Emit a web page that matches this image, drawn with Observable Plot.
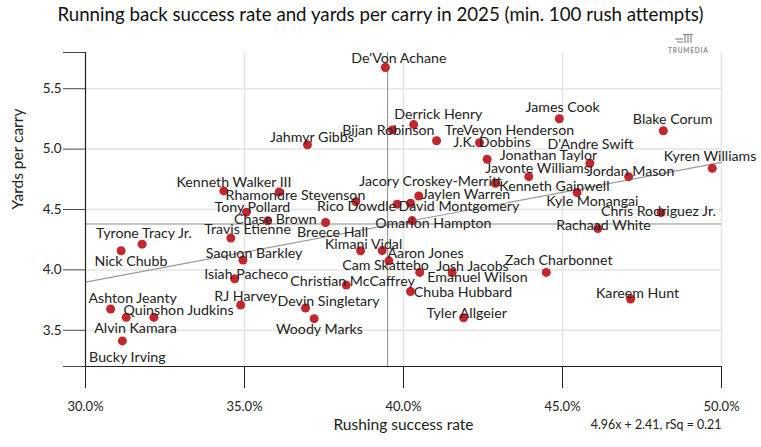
<!DOCTYPE html>
<html>
<head>
<meta charset="utf-8">
<script src="https://cdn.jsdelivr.net/npm/d3@7"></script>
<script src="https://cdn.jsdelivr.net/npm/@observablehq/plot@0.6"></script>
<style>
  body { margin: 0; background: #fff; font-family: Lato, "Noto Sans", sans-serif; }
  #wrap { position: relative; width: 761px; height: 447px; overflow: hidden; }
  #title { height: 28px; line-height: 28px; text-align: center; font-size: 18.7px; color: #111; white-space: nowrap; }
  #logo { position: absolute; left: 668px; top: 27px; width: 32px; text-align: center; color: #8a8a8a; }
  #logo .word { font-size: 6.5px; letter-spacing: 0.8px; font-weight: 700; margin-top: 1px; }
</style>
</head>
<body>
<div id="wrap">
  <div id="title">Running back success rate and yards per carry in 2025 (min. 100 rush attempts)</div>
  <div id="logo">
    <svg width="20" height="10" viewBox="0 0 20 10">
      <g stroke="#8a8a8a" stroke-width="1.2" fill="none">
        <line x1="1" y1="6" x2="9" y2="6"/><line x1="3" y1="9" x2="9" y2="9"/>
        <line x1="9" y1="1.5" x2="19" y2="1.5"/>
        <line x1="11" y1="2" x2="11" y2="10"/><line x1="14" y1="2" x2="14" y2="10"/><line x1="17" y1="2" x2="17" y2="10"/>
      </g>
    </svg>
    <div class="word">TRUMEDIA</div>
  </div>
  <div id="chart"></div>
</div>
<script>
// ---- data ----
const players = [
  "De'Von Achane","Derrick Henry","Bijan Robinson","James Cook","Blake Corum",
  "J.K. Dobbins","TreVeyon Henderson","Jahmyr Gibbs","Jonathan Taylor","D'Andre Swift",
  "Kyren Williams","Javonte Williams","Jordan Mason","Kenneth Gainwell","Kyle Monangai",
  "Kenneth Walker III","Rhamondre Stevenson","Jacory Croskey-Merritt","Rico Dowdle","David Montgomery",
  "Jaylen Warren","Chris Rodriguez Jr.","Tony Pollard","Chase Brown","Breece Hall",
  "Omarion Hampton","Rachaad White","Travis Etienne","Tyrone Tracy Jr.","Nick Chubb",
  "Saquon Barkley","Kimani Vidal","Aaron Jones","Cam Skattebo","Isiah Pacheco",
  "Emanuel Wilson","Josh Jacobs","Zach Charbonnet","Christian McCaffrey","Chuba Hubbard",
  "Ashton Jeanty","RJ Harvey","Devin Singletary","Quinshon Judkins","Kareem Hunt",
  "Tyler Allgeier","Woody Marks","Alvin Kamara","Bucky Irving"
];
const successRate = [
  0.3943,0.4032,0.3965,0.4490,0.4817,
  0.4104,0.4239,0.3698,0.4263,0.4586,
  0.4971,0.4394,0.4708,0.4289,0.4546,
  0.3435,0.3609,0.4048,0.3850,0.3980,
  0.4022,0.4810,0.3506,0.3573,0.3755,
  0.4027,0.4611,0.3457,0.3178,0.3112,
  0.3495,0.3865,0.3933,0.3954,0.3469,
  0.4051,0.4153,0.4449,0.3820,0.4022,
  0.3079,0.3488,0.3692,0.3215,0.4714,
  0.4189,0.3719,0.3128,0.3116
];
const yardsPerCarry = [
  5.676,5.203,5.158,5.251,5.152,
  5.069,5.053,5.036,4.916,4.883,
  4.841,4.772,4.772,4.717,4.641,
  4.654,4.645,4.612,4.565,4.544,
  4.552,4.474,4.478,4.406,4.392,
  4.408,4.342,4.263,4.213,4.158,
  4.081,4.158,4.160,4.075,3.926,
  3.979,3.979,3.979,3.874,3.821,
  3.676,3.709,3.684,3.607,3.759,
  3.604,3.596,3.607,3.412
];
const meanRate = [0.395];
const meanYpc = [4.38];
const fitRate = [0.30, 0.50];
const fitYpc = [3.898, 4.890];
const fitText = ["4.96x + 2.41, rSq = 0.21"];
const xTicks = [0.30, 0.35, 0.40, 0.45, 0.50];
const xGrid = [0.35, 0.40, 0.45, 0.50];
const yTicks = [3.2, 3.5, 4.0, 4.5, 5.0, 5.5, 5.8];
const yLabeled = [3.5, 4.0, 4.5, 5.0, 5.5];
const xTitle = ["Rushing success rate"];
const yTitle = ["Yards per carry"];

// label placement nudges (pixels, relative to each dot), as in the reference
const labelNudge = {
  "De'Von Achane":[13.5,-9],"Derrick Henry":[24.7,-10.5],"Bijan Robinson":[-4,0.7],"James Cook":[3.3,-11.4],
  "Blake Corum":[9.3,-11.4],"J.K. Dobbins":[55.5,1.3],"TreVeyon Henderson":[30,-12.7],"Jahmyr Gibbs":[4.5,-7.4],
  "Jonathan Taylor":[61.3,-4.3],"D'Andre Swift":[0.7,-18.3],"Kyren Williams":[-2.2,-11.6],"Javonte Williams":[8.7,-7.7],
  "Jordan Mason":[2,-5],"Kenneth Gainwell":[59,2.7],"Kyle Monangai":[15.3,9.2],"Kenneth Walker III":[10.2,-8],
  "Rhamondre Stevenson":[16.3,3],"Jacory Croskey-Merritt":[11.7,-14.3],"Rico Dowdle":[0.7,5.3],"David Montgomery":[61.8,2.4],
  "Jaylen Warren":[55.5,-8.3],"Chris Rodriguez Jr.":[-2.7,-1],"Tony Pollard":[6,-5],"Chase Brown":[7.7,-1],
  "Breece Hall":[7,10],"Omarion Hampton":[21.3,2.6],"Rachaad White":[5.7,-3],"Travis Etienne":[16.7,-8.3],
  "Tyrone Tracy Jr.":[1.8,-11],"Nick Chubb":[9.8,10.7],"Saquon Barkley":[11.2,-6.3],"Kimani Vidal":[3,-6.7],
  "Aaron Jones":[43.3,2.6],"Cam Skattebo":[-3.3,4.3],"Isiah Pacheco":[11.7,-4],"Emanuel Wilson":[57.7,4.6],
  "Josh Jacobs":[20.3,-6],"Zach Charbonnet":[12.3,-12.4],"Christian McCaffrey":[6.3,-3.6],"Chuba Hubbard":[52.5,0.6],
  "Ashton Jeanty":[22,-11],"RJ Harvey":[5.2,-8.6],"Devin Singletary":[23,-6.6],"Quinshon Judkins":[24.7,-7],
  "Kareem Hunt":[7,-6],"Tyler Allgeier":[3,-4.7],"Woody Marks":[5.3,10.3],"Alvin Kamara":[9.3,11.3],"Bucky Irving":[5,16.4]
};

const data = players.map((name, i) => ({name, rate: successRate[i], ypc: yardsPerCarry[i]}));
const fit = fitRate.map((r, i) => ({rate: r, ypc: fitYpc[i]}));

const chart = Plot.plot({
  width: 761,
  height: 419,
  marginLeft: 85,
  marginRight: 40,
  marginTop: 24,
  marginBottom: 81,
  x: {domain: [0.30, 0.50]},
  y: {domain: [3.2, 5.8]},
  style: {fontFamily: "Lato, 'Noto Sans', sans-serif", fontSize: "13px", color: "#222", background: "#fff", overflow: "visible"},
  marks: [
    Plot.gridX(xGrid, {stroke: "#e4e4e4", strokeOpacity: 1, strokeWidth: 1.5}),
    Plot.gridY(yLabeled, {stroke: "#e4e4e4", strokeOpacity: 1, strokeWidth: 1.5}),
    Plot.ruleX(meanRate, {stroke: "#8c8c8c", strokeWidth: 1}),
    Plot.ruleY(meanYpc, {stroke: "#8c8c8c", strokeWidth: 1}),
    Plot.line(fit, {x: "rate", y: "ypc", stroke: "#9a9a9a", strokeWidth: 1.2}),
    Plot.axisX(xTicks, {tickSize: 22, tickPadding: 13, tickFormat: d3.format(".1%"), label: null, stroke: "#222", fontSize: 13}),
    Plot.axisY(yTicks, {tickSize: 22, tickPadding: 2, tickFormat: d => yLabeled.includes(d) ? d.toFixed(1) : "", label: null, stroke: "#444", fontSize: 13.5}),
    Plot.ruleX([0.30], {stroke: "#222", strokeWidth: 1.2}),
    Plot.ruleY([3.2], {stroke: "#222", strokeWidth: 1.2}),
    Plot.dot(data, {x: "rate", y: "ypc", r: 4.5, fill: "#c3262d", stroke: "none"}),
    Plot.text(data, {x: "rate", y: "ypc", text: "name", fontSize: 14.2, fill: "#222", textAnchor: "middle", lineAnchor: "middle"}),
    Plot.text(xTitle, {frameAnchor: "bottom", dy: 59, lineAnchor: "middle", fontSize: 15.5, fill: "#222"}),
    Plot.text(fitText, {frameAnchor: "bottom-right", textAnchor: "end", dy: 59, lineAnchor: "middle", fontSize: 12.4, fill: "#222"}),
    Plot.text(yTitle, {frameAnchor: "left", rotate: -90, dx: -67, lineAnchor: "middle", fontSize: 15.5, fill: "#222"})
  ]
});

// shift each player label by its nudge, on top of the position Plot gave it
chart.querySelectorAll("text").forEach(t => {
  const name = t.textContent;
  const n = labelNudge[name];
  if (!n || !players.includes(name)) return;
  const prev = t.getAttribute("transform");
  if (prev) {
    t.setAttribute("transform", `translate(${n[0]},${n[1]}) ${prev}`);
  } else {
    const x = +t.getAttribute("x") || 0, y = +t.getAttribute("y") || 0;
    t.setAttribute("x", x + n[0]);
    t.setAttribute("y", y + n[1]);
  }
});

document.getElementById("chart").appendChild(chart);
</script>
</body>
</html>
